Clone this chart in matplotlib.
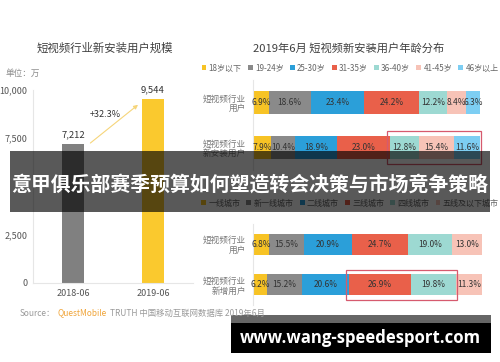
import matplotlib
matplotlib.use("Agg")
import matplotlib.pyplot as plt
from matplotlib.patches import Rectangle, Patch
import numpy as np

plt.rcParams['font.family'] = ['Noto Sans CJK SC', 'DejaVu Sans']

# ---------------- data ----------------
left_title = "短视频行业新安装用户规模"
left_unit = "单位：万"
left_cats = ["2018-06", "2019-06"]
left_vals = [7212, 9544]
left_growth = "+32.3%"
left_yticks = [0, 2500, 7500, 10000]
left_yticklabels = ["0", "2,500", "7,500", "10,000"]

age_title = "2019年6月 短视频新安装用户年龄分布"
age_groups = ["18岁以下", "19-24岁", "25-30岁", "31-35岁", "36-40岁", "41-45岁", "46岁以上"]
age_rows = ["短视频行业\n用户", "短视频行业\n新安装用户"]
age_vals = [
    [6.9, 18.6, 23.4, 24.2, 12.2, 8.4, 6.3],
    [7.9, 10.4, 18.9, 23.0, 12.8, 15.4, 11.6],
]

city_groups = ["一线城市", "新一线城市", "二线城市", "三线城市", "四线城市", "五线及以下城市"]
city_rows = ["短视频行业\n用户", "短视频行业\n新增用户"]
city_vals = [
    [6.8, 15.5, 20.9, 24.7, 19.0, 13.0],
    [6.2, 15.2, 20.6, 26.9, 19.8, 11.3],
]

overlay_title = "意甲俱乐部赛季预算如何塑造转会决策与市场竞争策略"
watermark = "www.wang-speedesport.com"
source_parts = ["Source：", "QuestMobile", "TRUTH 中国移动互联网数据库 2019年6月"]

# ---------------- style ----------------
seg_colors = ["#F7C325", "#8A8A8A", "#2B9FD9", "#E9604A", "#9DD9D2", "#F7C3B7", "#7DCEF3"]
txt_dark = "#404040"
txt_gray = "#8C8C8C"
box_red = "#D65A6E"

W, H = 500, 362
fig = plt.figure(figsize=(W / 100, H / 100), dpi=100)
fig.patch.set_facecolor("white")

def px_axes(x0, x1, y0, y1):
    return fig.add_axes([x0 / W, 1 - y1 / H, (x1 - x0) / W, (y1 - y0) / H])

# ---------------- left chart ----------------
axL = px_axes(33, 193, 90, 283)
xs = np.arange(len(left_cats))
axL.bar(xs, left_vals, width=0.275, color=["#808080", "#FAC92E"], zorder=2)
axL.set_xlim(-0.5, 1.5)
axL.set_ylim(0, 10000)
axL.set_yticks(left_yticks)
axL.set_yticklabels(left_yticklabels, fontsize=6.5, color="#555555")
axL.set_xticks(xs)
axL.set_xticklabels(left_cats, fontsize=6.5, color="#555555")
axL.tick_params(length=0, pad=4)
for s in ["top", "right"]:
    axL.spines[s].set_visible(False)
for s in ["left", "bottom"]:
    axL.spines[s].set_color("#E6E6E6")
    axL.spines[s].set_linewidth(0.8)
for x, v in zip(xs, left_vals):
    axL.text(x, v + 250, f"{v:,}", ha="center", va="bottom", fontsize=6.8, color="#333333")
axL.annotate("", xy=(0.84, left_vals[1] - 220), xytext=(0.19, left_vals[0] - 50),
             arrowprops=dict(arrowstyle="-|>", color="#F6D57A", lw=0.8, mutation_scale=6))
axL.text(0.4, (left_vals[0] + left_vals[1]) / 2 + 330, left_growth, ha="center", va="center",
         fontsize=6.5, color="#333333")

# ---------------- stacked bar helper ----------------
def stacked(ax, rows, vals, box_range):
    ax.set_xlim(0, 100)
    ax.set_ylim(1.5, -0.5)
    for i, row in enumerate(vals):
        left = 0
        for j, v in enumerate(row):
            ax.barh(i, v, left=left, height=0.51, color=seg_colors[j], zorder=2)
            ax.text(left + v / 2, i, f"{v:.1f}%", ha="center", va="center",
                    fontsize=6.0, color="#333333", zorder=3)
            left += v
    ax.set_yticks(range(len(rows)))
    ax.set_yticklabels(rows, fontsize=6.2, color="#777777", linespacing=1.1)
    ax.tick_params(length=0, pad=5)
    ax.set_xticks([])
    for s in ["top", "right", "bottom"]:
        ax.spines[s].set_visible(False)
    ax.spines["left"].set_color("#E6E6E6")
    ax.spines["left"].set_linewidth(0.8)
    # highlight box on second row
    row = vals[1]
    cs = np.concatenate([[0], np.cumsum(row)])
    a, b = box_range
    x0 = cs[a] - 1.2
    x1 = cs[b] + 0.6
    ax.add_patch(Rectangle((x0, 1 - 0.37), x1 - x0, 0.74, fill=False,
                           edgecolor=box_red, lw=0.9, clip_on=False, zorder=4))

axA = px_axes(253, 480, 80, 170)
stacked(axA, age_rows, age_vals, (4, 7))
axC = px_axes(253, 482, 224, 305)
stacked(axC, city_rows, city_vals, (3, 5))

# legends
h_age = [Patch(facecolor=c, edgecolor="none") for c in seg_colors[:len(age_groups)]]
fig.legend(h_age, age_groups, loc="center", bbox_to_anchor=(350 / W, 1 - 68 / H), ncol=7,
           fontsize=5.8, frameon=False, handlelength=0.6, handleheight=0.6,
           handletextpad=0.3, columnspacing=0.75, labelcolor="#666666", borderpad=0)
h_city = [Patch(facecolor=c, edgecolor="none") for c in seg_colors[:len(city_groups)]]
fig.legend(h_city, city_groups, loc="center", bbox_to_anchor=(350 / W, 1 - 203 / H), ncol=6,
           fontsize=5.8, frameon=False, handlelength=0.6, handleheight=0.6,
           handletextpad=0.3, columnspacing=0.75, labelcolor="#666666", borderpad=0)

# ---------------- overlay ----------------
axO = fig.add_axes([0, 0, 1, 1])
axO.set_zorder(10)
axO.set_xlim(0, W)
axO.set_ylim(H, 0)
axO.axis("off")
axO.patch.set_alpha(0)

axO.text(105, 48, left_title, ha="center", va="center", fontsize=8.2, color=txt_dark)
axO.text(349, 48, age_title, ha="center", va="center", fontsize=8.1, color=txt_dark)
axO.text(6, 73, left_unit, ha="left", va="center", fontsize=6.2, color=txt_gray)

# source line
axO.text(20, 313, source_parts[0], ha="left", va="center", fontsize=6, color="#9A9A9A")
axO.text(58, 313, source_parts[1], ha="left", va="center", fontsize=6, color="#F0A53A")
axO.text(110, 313, source_parts[2], ha="left", va="center", fontsize=6, color="#9A9A9A")

# dark band with title
axO.add_patch(Rectangle((10, 151), 480, 61, facecolor="black", alpha=0.65, edgecolor="none"))
axO.text(250, 184, overlay_title, ha="center", va="center", fontsize=14.3,
         color="white", fontweight="bold")

# watermark
axO.add_patch(Rectangle((231, 315), 260, 8, facecolor="#666666", edgecolor="none"))
axO.add_patch(Rectangle((231, 323), 260, 30, facecolor="black", edgecolor="none"))
axO.text(360, 338, watermark, ha="center", va="center", fontsize=12.1, color="white",
         fontweight="bold", family=["Open Sans", "DejaVu Sans"])

fig.savefig("out.png", dpi=100)
